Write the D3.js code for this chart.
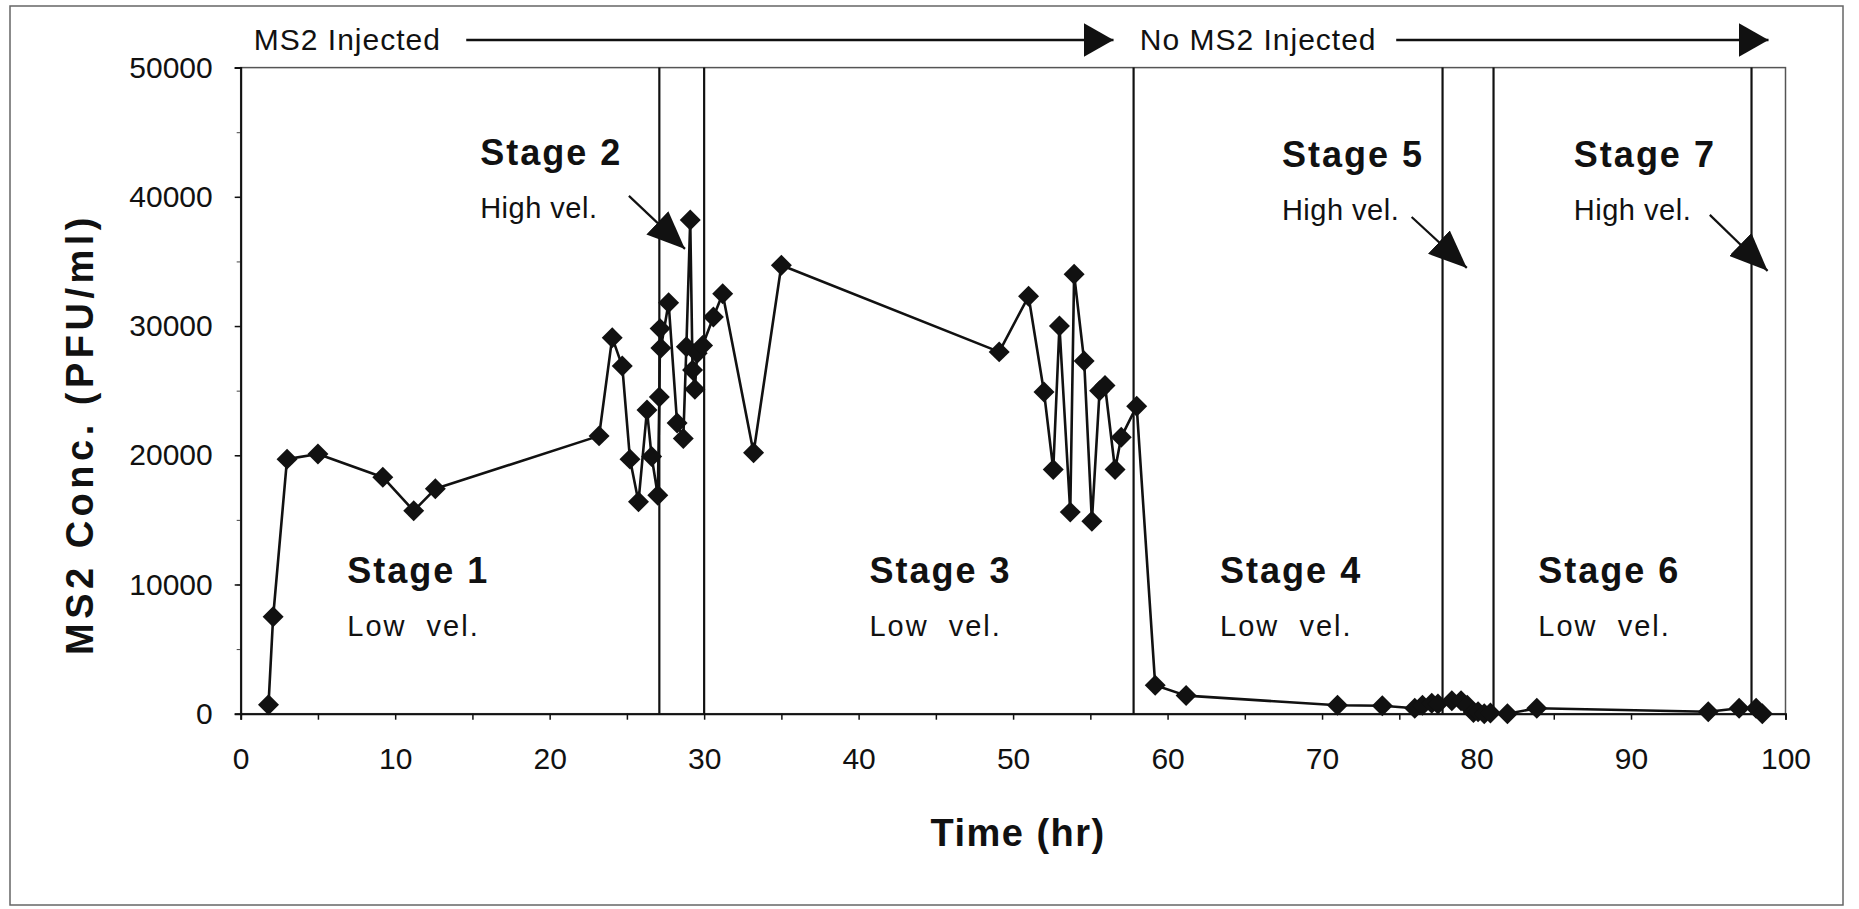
<!DOCTYPE html>
<html><head><meta charset="utf-8">
<script src="https://cdn.jsdelivr.net/npm/d3@7"></script>
<style>
html,body{margin:0;padding:0;background:#fff;}
svg{display:block;font-family:"Liberation Sans",Arial,sans-serif;}
</style></head>
<body>
<svg id="chart" width="1859" height="909"></svg>
<script>
// ---- data ----
const timeHr = [1.8, 2.1, 3.0, 5.0, 9.2, 11.2, 12.6, 23.2, 24.05, 24.7, 25.2, 25.75, 26.3, 26.6,
  27.0, 27.1, 27.15, 27.2, 27.7, 28.25, 28.65, 28.85, 29.1, 29.25, 29.4, 29.55, 29.9, 30.6, 31.2,
  33.2, 35.0, 49.1, 51.0, 52.0, 52.6, 53.0, 53.7, 53.95, 54.6, 55.1, 55.6, 55.95, 56.6, 57.0, 58.0,
  59.2, 61.2, 71.0, 73.9, 76.0, 76.5, 77.1, 77.5, 78.4, 79.0, 79.4, 79.8, 80.1, 80.5, 80.9, 82.0,
  83.9, 95.0, 97.0, 98.1, 98.5];
const ms2Conc = [700, 7500, 19700, 20100, 18300, 15700, 17400, 21500, 29100, 26900, 19700, 16400, 23500, 19900,
  16900, 24500, 29800, 28300, 31800, 22500, 21300, 28400, 38200, 26600, 25100, 27900, 28500, 30700, 32500,
  20200, 34700, 28000, 32300, 24900, 18900, 30000, 15600, 34000, 27300, 14900, 25000, 25400, 18900, 21400, 23800,
  2200, 1400, 650, 620, 420, 650, 800, 750, 1000, 1000, 650, 100, 150, 0, 50, 0,
  420, 150, 420, 420, 0];
const xTicks = [0, 10, 20, 30, 40, 50, 60, 70, 80, 90, 100];
const xMinorTicks = d3.range(0, 101, 5);
const yTicks = [0, 10000, 20000, 30000, 40000, 50000];
const yMinorTicks = d3.range(0, 50001, 5000);
const stageBounds = [27.1, 30.0, 57.8, 77.8, 81.1, 97.8];
const stageNames = ["Stage 1", "Stage 2", "Stage 3", "Stage 4", "Stage 5", "Stage 6", "Stage 7"];
const stageVel = ["Low vel.", "High vel.", "Low vel.", "Low vel.", "High vel.", "Low vel.", "High vel."];
const stageLabelX = [6.9, 15.5, 40.7, 63.4, 67.4, 84.0, 86.3];
const stageLabelY = [10100, 42450, 10100, 10100, 42300, 10100, 42300];
const highVelArrowFrom = [[25.13, 40070], [75.8, 38440], [95.1, 38600]];
const highVelArrowTo = [[28.76, 35970], [79.37, 34500], [98.84, 34270]];
const injectTexts = ["MS2 Injected", "No MS2 Injected"];
const injectTextX = [0.85, 58.2];
const injectArrowFrom = [14.6, 74.8];
const injectArrowTo = [56.5, 98.9];

// ---- layout ----
const svg = d3.select("#chart");
const L = 240.7, R = 1785.5, T = 67.6, B = 713.7;
const x = d3.scaleLinear().domain([0, 100]).range([L, R]);
const y = d3.scaleLinear().domain([0, 50000]).range([B, T]);
const ink = "#111";

// outer frame
svg.append("rect").attr("x", 10).attr("y", 6).attr("width", 1833).attr("height", 899)
  .attr("fill", "none").attr("stroke", "#666").attr("stroke-width", 1.5);

// plot box
svg.append("rect").attr("x", L).attr("y", T).attr("width", R - L).attr("height", B - T)
  .attr("fill", "none").attr("stroke", "#555").attr("stroke-width", 1.5);

// axes
const xAxis = svg.append("g").attr("transform", `translate(0,${B})`)
  .call(d3.axisBottom(x).tickValues(xMinorTicks).tickSize(6).tickFormat(""));
xAxis.select(".domain").attr("stroke", ink).attr("stroke-width", 2);
xAxis.selectAll(".tick line").attr("stroke", ink).attr("stroke-width", 1.5);
const xLab = svg.append("g").attr("transform", `translate(0,${B})`)
  .call(d3.axisBottom(x).tickValues(xTicks).tickSize(0).tickPadding(34).tickFormat(d3.format("d")));
xLab.select(".domain").remove();
xLab.selectAll("text").attr("font-size", 30).attr("fill", ink).attr("font-family", "Liberation Sans, Arial, sans-serif");

const yMinor = svg.append("g").attr("transform", `translate(${L},0)`)
  .call(d3.axisLeft(y).tickValues(yMinorTicks).tickSize(4).tickFormat(""));
yMinor.select(".domain").remove();
yMinor.selectAll(".tick line").attr("stroke", "#444").attr("stroke-width", 1);

const yAxis = svg.append("g").attr("transform", `translate(${L},0)`)
  .call(d3.axisLeft(y).tickValues(yTicks).tickSize(6).tickPadding(22).tickFormat(d3.format("d")));
yAxis.select(".domain").attr("stroke", ink).attr("stroke-width", 2);
yAxis.selectAll(".tick line").attr("stroke", ink).attr("stroke-width", 1.5);
yAxis.selectAll("text").attr("font-size", 30).attr("fill", ink).attr("font-family", "Liberation Sans, Arial, sans-serif");

// axis titles
svg.append("text").attr("x", (L + R) / 2 + 5).attr("y", 846).attr("text-anchor", "middle")
  .attr("font-size", 38).attr("font-weight", "bold").attr("letter-spacing", 1.5).attr("fill", ink)
  .text("Time (hr)");
svg.append("text").attr("transform", `translate(93,434) rotate(-90)`).attr("text-anchor", "middle")
  .attr("font-size", 38).attr("font-weight", "bold").attr("letter-spacing", 4.5).attr("fill", ink)
  .text("MS2 Conc. (PFU/ml)");

// stage boundary lines
svg.append("g").selectAll("line").data(stageBounds).join("line")
  .attr("x1", d => x(d)).attr("x2", d => x(d)).attr("y1", T).attr("y2", B)
  .attr("stroke", ink).attr("stroke-width", 2.2);

// arrow markers
const defs = svg.append("defs");
defs.append("marker").attr("id", "head").attr("viewBox", "0 0 30 34")
  .attr("refX", 30).attr("refY", 17).attr("markerWidth", 30).attr("markerHeight", 34)
  .attr("markerUnits", "userSpaceOnUse").attr("orient", "auto")
  .append("path").attr("d", "M0,0 L30,17 L0,34 Z").attr("fill", ink);
defs.append("marker").attr("id", "head2").attr("viewBox", "0 0 38 32")
  .attr("refX", 38).attr("refY", 16).attr("markerWidth", 38).attr("markerHeight", 32)
  .attr("markerUnits", "userSpaceOnUse").attr("orient", "auto")
  .append("path").attr("d", "M0,0 L38,16 L0,32 Z").attr("fill", ink);

// injection annotations
const topY = 40;
injectTexts.forEach((t, i) => {
  svg.append("text").attr("x", x(injectTextX[i])).attr("y", topY + 10)
    .attr("font-size", 30).attr("letter-spacing", 1).attr("fill", ink).text(t);
  svg.append("line").attr("x1", x(injectArrowFrom[i])).attr("x2", x(injectArrowTo[i]))
    .attr("y1", topY).attr("y2", topY).attr("stroke", ink).attr("stroke-width", 2.5)
    .attr("marker-end", "url(#head)");
});

// stage labels
stageNames.forEach((s, i) => {
  svg.append("text").attr("x", x(stageLabelX[i])).attr("y", y(stageLabelY[i]))
    .attr("font-size", 36).attr("font-weight", "bold").attr("letter-spacing", 2).attr("fill", ink).text(s);
  svg.append("text").attr("x", x(stageLabelX[i])).attr("y", y(stageLabelY[i]) + 53)
    .attr("font-size", 29).attr("letter-spacing", stageVel[i] === "Low vel." ? 2 : 0.5)
    .attr("fill", ink).attr("xml:space", "preserve").text(stageVel[i] === "Low vel." ? "Low  vel." : "High vel.");
});

// high velocity arrows
highVelArrowFrom.forEach((f, i) => {
  const t = highVelArrowTo[i];
  svg.append("line").attr("x1", x(f[0])).attr("y1", y(f[1])).attr("x2", x(t[0])).attr("y2", y(t[1]))
    .attr("stroke", ink).attr("stroke-width", 2.2).attr("marker-end", "url(#head2)");
});

// series line
const pts = timeHr.map((t, i) => [t, ms2Conc[i]]);
svg.append("path").datum(pts)
  .attr("d", d3.line().x(d => x(d[0])).y(d => y(d[1])))
  .attr("fill", "none").attr("stroke", ink).attr("stroke-width", 2.6).attr("stroke-linejoin", "round");

// markers (diamonds)
const diamond = d3.symbol().type(d3.symbolSquare).size(220);
svg.append("g").selectAll("path").data(pts).join("path")
  .attr("d", diamond)
  .attr("transform", d => `translate(${x(d[0])},${y(d[1])}) rotate(45)`)
  .attr("fill", ink);
</script>
</body></html>
